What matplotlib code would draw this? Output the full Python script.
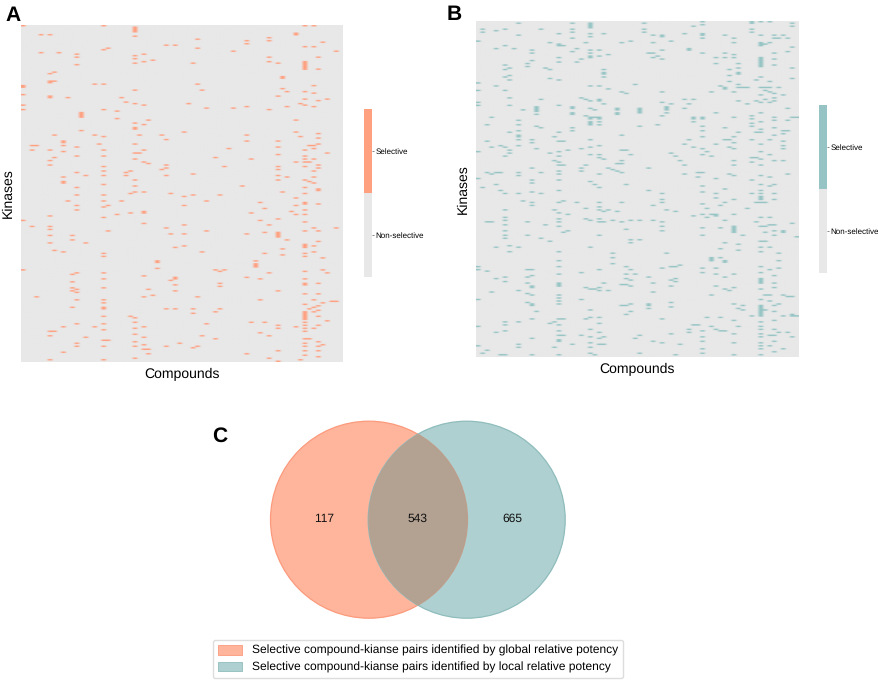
import numpy as np
import matplotlib
matplotlib.use('Agg')
import matplotlib.pyplot as plt
from matplotlib.colors import ListedColormap, LinearSegmentedColormap
from matplotlib.patches import Circle, Patch

plt.rcParams['font.family'] = ['Liberation Sans', 'DejaVu Sans']
plt.rcParams['text.hinting'] = 'no_hinting'
plt.rcParams['text.hinting_factor'] = 1

n_compounds = 72
n_kinases = 225

# compound index -> kinase rows flagged selective
global_hits = {
    0: [0, 40, 41, 46, 53, 56, 130, 163],
    2: [80, 83, 134],
    3: [80, 181],
    4: [6, 18],
    6: [6, 32, 37, 38, 47, 48, 83, 90, 93, 127, 134, 136, 140, 145, 204, 207, 223],
    7: [31, 37, 73, 88, 150, 204],
    8: [18],
    9: [77, 78, 80, 84, 101, 104, 105, 151, 201, 218],
    10: [48, 117],
    11: [140, 143, 166, 171, 175, 177, 188],
    12: [19, 21, 26, 81, 87, 98, 108, 113, 120, 123, 165, 176, 178, 183, 199, 212, 214],
    13: [58, 59, 60, 61, 70],
    14: [100, 145, 208],
    16: [39, 73, 201],
    17: [79],
    18: [0, 16, 39, 56, 74, 83, 87, 94, 97, 100, 106, 113, 117, 121, 128, 152, 154, 165,
         169, 175, 183, 185, 188, 189, 194, 199, 203, 210, 214, 223],
    19: [15, 120, 137, 210],
    21: [57, 62, 126],
    22: [48, 117],
    23: [51, 98, 100],
    24: [97, 112, 125, 194],
    25: [1, 2, 3, 4, 7, 20, 22, 25, 43, 52, 65, 68, 69, 79, 85, 89, 103, 107, 111, 195,
         198, 202, 206, 211, 214, 222],
    26: [73, 85],
    27: [19, 24, 53, 66, 83, 91, 111, 124, 125, 132, 167, 181, 201, 208, 213, 216],
    28: [63, 92, 176, 216, 219],
    29: [23, 180],
    30: [157, 158, 162],
    31: [73, 96],
    32: [13, 76, 93, 95, 100, 135, 189, 214],
    33: [112, 139, 170],
    34: [13, 148, 168, 169, 173, 177, 189],
    35: [212],
    36: [71, 114, 120, 133, 139, 147],
    37: [52],
    38: [25, 99, 113, 189, 192, 215],
    39: [9, 15, 39, 181, 214],
    40: [43, 151, 207],
    41: [55, 117, 137, 199],
    43: [88, 163, 191, 209],
    44: [113, 164, 172, 174, 189],
    45: [94, 163],
    46: [82],
    47: [17, 55],
    49: [107],
    50: [10, 12, 54, 73, 77, 139, 168, 219],
    51: [89, 125, 198],
    52: [157, 159, 160, 161],
    53: [118, 130, 169, 183, 205],
    54: [122, 138, 152, 198],
    55: [8, 10, 21, 24, 56, 133, 165, 207, 222],
    57: [25, 47, 77, 81, 86, 94, 96, 100, 103, 129, 138, 139, 140, 141, 177, 200, 202, 217, 224],
    58: [34, 35, 42, 111, 149, 153],
    59: [44, 54, 101, 143],
    60: [124],
    61: [5, 6, 63, 71, 91, 115, 120, 126, 201],
    62: [52, 74, 223],
    63: [0, 14, 24, 25, 26, 27, 28, 29, 44, 49, 53, 83, 87, 89, 91, 94, 103, 108, 112, 118,
         119, 123, 126, 131, 137, 146, 147, 148, 152, 154, 164, 169, 172, 173, 179, 186,
         191, 192, 193, 194, 195, 196, 198, 200, 202, 204, 209, 212, 214, 217, 220],
    64: [80, 91, 104, 189, 209],
    65: [0, 14, 40, 45, 54, 80, 82, 89, 97, 101, 105, 135, 147, 151, 183, 188, 191, 202],
    66: [21, 29, 50, 72, 75, 79, 93, 95, 109, 110, 119, 137, 144, 172, 179, 187, 190, 194,
         200, 211, 214, 217, 221],
    67: [11, 155, 163, 185, 213],
    68: [49, 85, 165, 197],
    69: [184],
    70: [17, 135, 184],
}

# compound index -> kinase rows flagged selective
local_hits = {
    0: [13, 41, 46, 54, 56, 87, 105, 164, 166, 186, 204, 217],
    1: [5, 7, 111, 222],
    2: [69, 80, 101, 134, 167, 220],
    3: [64, 84, 102, 134, 181],
    4: [6, 18, 43, 101, 109, 151, 172, 208],
    5: [83, 101, 113, 223],
    6: [5, 16, 29, 32, 37, 46, 84, 90, 115, 126, 131, 133, 136, 140, 143, 145, 171, 174,
        201, 203, 207, 223],
    7: [31, 36, 39, 51, 56, 74, 86, 88, 150, 154],
    8: [18],
    9: [1, 9, 66, 69, 73, 76, 77, 79, 83, 101, 103, 115, 151, 180, 201, 216, 218],
    10: [59, 120],
    11: [28, 30, 134, 143, 166, 171, 175, 182, 188],
    12: [19, 21, 26, 79, 81, 98, 106, 108, 114, 121, 123, 166, 170, 177, 178, 183, 189, 190,
         199, 212, 223],
    13: [57, 58, 59, 60, 62, 70, 85, 194],
    14: [5, 52, 71, 101, 115, 145],
    15: [31, 136],
    16: [14, 32, 38, 88, 147, 202],
    17: [77, 93, 126, 201, 218],
    18: [8, 15, 16, 24, 27, 39, 56, 74, 80, 87, 90, 94, 96, 100, 102, 106, 113, 121, 128,
         132, 134, 137, 154, 160, 164, 169, 175, 176, 177, 183, 185, 187, 189, 199, 203,
         207, 210, 213, 214, 223],
    19: [16, 80, 96, 120, 141, 199, 210],
    20: [86, 129, 140],
    21: [1, 5, 7, 11, 20, 57, 58, 61, 62, 71, 73, 216],
    22: [18, 27, 121],
    23: [25, 51, 85, 98, 100, 168, 186, 210],
    24: [14, 52, 63, 96, 125, 132, 178, 199],
    25: [1, 2, 3, 4, 8, 10, 19, 21, 23, 24, 43, 53, 58, 64, 65, 67, 68, 69, 79, 84, 89, 107,
         133, 151, 179, 193, 198, 206, 211, 215, 218, 222],
    26: [59, 64, 109, 179, 223],
    27: [19, 23, 43, 52, 53, 64, 65, 67, 69, 83, 89, 91, 102, 111, 121, 124, 126, 132, 134,
         143, 166, 178, 180, 198, 202, 208, 212, 216],
    28: [8, 32, 34, 35, 37, 55, 92, 127, 134, 175, 211, 216],
    29: [22, 45, 98, 126, 180],
    30: [99, 133, 155, 158, 162],
    31: [58, 59, 61, 62, 95, 100, 127],
    32: [14, 47, 76, 86, 93, 95, 101, 121, 134, 176, 190],
    33: [48, 86, 109, 139, 164, 169, 172, 176, 190, 196],
    34: [13, 89, 133, 146, 148, 166, 173, 177, 189, 194],
    35: [42, 169, 212],
    36: [58, 59, 60, 61, 70, 133, 146, 210, 222],
    37: [1, 5, 7],
    38: [21, 98, 113, 171, 189, 190, 192],
    39: [9, 14, 21, 24, 123, 133, 175, 181, 214],
    40: [23, 69],
    41: [9, 10, 19, 25, 47, 54, 63, 115, 119, 121, 134, 137, 140, 165, 199, 215],
    42: [57, 58, 59, 61, 126, 155],
    43: [13, 55, 88, 164, 173, 177, 188, 191, 209],
    44: [90, 127, 164, 172, 174, 223],
    45: [93, 163, 216],
    46: [8, 52, 58, 82, 96, 102],
    47: [18, 19, 55, 79, 206, 208],
    48: [3, 52, 64, 65, 67, 84, 130, 203],
    49: [101, 104, 203],
    50: [0, 2, 8, 9, 11, 21, 64, 65, 70, 73, 77, 85, 89, 101, 110, 114, 122, 129, 138, 143,
         165, 168, 207, 211, 214, 219, 222],
    51: [87, 125, 131, 198],
    52: [47, 90, 129, 158, 159, 160, 183, 204],
    53: [24, 28, 61, 82, 105, 115, 118, 129, 130, 165, 169, 177, 206],
    54: [43, 123, 138, 152, 158, 198, 207],
    55: [9, 21, 24, 44, 45, 71, 79, 112, 121, 133, 148, 160, 161, 171, 179, 207],
    56: [32, 36, 40, 79, 84, 102, 180],
    57: [11, 14, 22, 24, 47, 64, 77, 81, 85, 93, 96, 103, 119, 129, 137, 138, 139, 140, 141,
         169, 178, 189, 200, 209, 215, 223],
    58: [28, 31, 34, 35, 42, 44, 53, 74, 149, 153, 192, 204],
    59: [44, 143, 190, 193],
    60: [44, 55, 125],
    61: [0, 1, 5, 7, 63, 65, 68, 70, 79, 91, 94, 106, 115, 197],
    62: [39, 53, 74, 91, 121, 134],
    63: [0, 9, 14, 15, 16, 24, 25, 26, 27, 28, 29, 30, 37, 44, 49, 54, 61, 67, 72, 74, 82,
         87, 92, 96, 103, 109, 113, 115, 117, 118, 119, 121, 131, 137, 147, 151, 154, 164,
         168, 172, 173, 174, 175, 179, 186, 190, 191, 192, 193, 194, 195, 196, 197, 201,
         204, 206, 209, 211, 215, 217, 219, 223],
    64: [15, 44, 46, 52, 121, 137, 141, 147, 183, 193],
    65: [0, 14, 40, 44, 47, 54, 79, 89, 104, 110, 131, 136, 151, 166, 183, 187, 210, 217],
    66: [9, 11, 21, 25, 29, 48, 51, 53, 64, 66, 71, 76, 93, 109, 115, 119, 136, 140, 143,
         170, 175, 178, 190, 194, 200, 206, 210, 214, 221],
    67: [11, 44, 155, 160, 165, 189, 208],
    68: [9, 49, 73, 75, 80, 83, 85, 93, 140, 141, 183, 197, 219],
    69: [11, 20, 58, 66, 73, 102, 184, 208],
    70: [1, 3, 17, 31, 38, 64, 135, 184, 196, 197, 211],
    71: [64, 144, 197],
}

bar_labels = ['Non-selective', 'Selective']
xlabel = 'Compounds'
ylabel = 'Kinases'
venn_counts = [117, 543, 665]
venn_names = ['Selective compound-kianse pairs identified by global relative potency',
              'Selective compound-kianse pairs identified by local relative potency']

W, H = 879, 680
grey = '#e8e8e8'
salmon = '#ffa080'
teal = '#96c4c4'


def px_axes(fig, x0, y0, x1, y1):
    # pixel box measured from the top left of the picture
    return fig.add_axes([x0 / W, 1 - y1 / H, (x1 - x0) / W, (y1 - y0) / H])


def to_matrix(hits):
    m = np.zeros((n_kinases, n_compounds))
    for col, rows in hits.items():
        m[rows, col] = 1
    return m


def heatmap(fig, box, bar_box, hits, color):
    # continuous map so the smoothing gives the soft look of the original
    soft = LinearSegmentedColormap.from_list('soft', [grey, color])
    ax = px_axes(fig, *box)
    ax.imshow(to_matrix(hits), cmap=soft, vmin=0, vmax=1, aspect='auto', interpolation='hanning')
    ax.set_xticks([])
    ax.set_yticks([])
    for s in ax.spines.values():
        s.set_visible(False)
    ax.set_xlabel(xlabel, fontsize=9.8, labelpad=4.5)
    ax.set_ylabel(ylabel, fontsize=9.8, labelpad=4.5)

    cax = px_axes(fig, *bar_box)
    cax.imshow([[1], [0]], cmap=ListedColormap([grey, color]), vmin=0, vmax=1, aspect='auto',
               extent=[0, 1, 0, 2])
    cax.set_xticks([])
    cax.yaxis.tick_right()
    cax.set_yticks([0.5, 1.5], bar_labels)
    cax.tick_params(axis='y', length=1.5, width=0.5, pad=1, labelsize=5.8, color='#555555')
    for s in cax.spines.values():
        s.set_visible(False)


fig = plt.figure(figsize=(W / 100, H / 100), dpi=100)

heatmap(fig, (21, 25, 343, 362), (364, 109, 372, 277), global_hits, salmon)
heatmap(fig, (476, 21, 799, 357), (819, 105, 827, 273), local_hits, teal)

for letter, x, y in [('A', 5, 21), ('B', 447, 20), ('C', 212, 442)]:
    fig.text(x / W, 1 - y / H, letter, fontsize=15, fontweight='bold', ha='left', va='baseline')

# venn diagram, axes in pixel units
vax = fig.add_axes([0, 0, 1, 1], zorder=-1)
vax.set_xlim(0, W)
vax.set_ylim(H, 0)
vax.axis('off')
left = Circle((369, 519.7), 98.5, facecolor='#ffb59c', edgecolor='#fb9a7c', lw=0.9)
right = Circle((466.7, 519.7), 98.5, facecolor='#afd0d0', edgecolor='#8fbcbc', lw=0.9)
vax.add_patch(left)
vax.add_patch(right)
both = Circle((369, 519.7), 98.5, facecolor='#b3a192', edgecolor='#bd9f8c', lw=0.9)
vax.add_patch(both)
both.set_clip_path(Circle((466.7, 519.7), 98.5, transform=vax.transData))
for n, x in zip(venn_counts, [324, 418, 512]):
    vax.text(x, 519, str(n), fontsize=8.8, ha='center', va='center', color='#111111')

handles = [Patch(facecolor='#ffb59c', edgecolor='#fb9a7c', lw=0.6, label=venn_names[0]),
           Patch(facecolor='#afd0d0', edgecolor='#8fbcbc', lw=0.6, label=venn_names[1])]
fig.legend(handles=handles, loc='center', bbox_to_anchor=(418 / W, 1 - 659 / H), fontsize=8.6,
           frameon=True, fancybox=True, edgecolor='#dddddd', framealpha=1, handlelength=2.0,
           handleheight=0.85, handletextpad=0.84, labelspacing=0.42, borderpad=0.42, borderaxespad=0)

fig.savefig('out.png', dpi=100)
